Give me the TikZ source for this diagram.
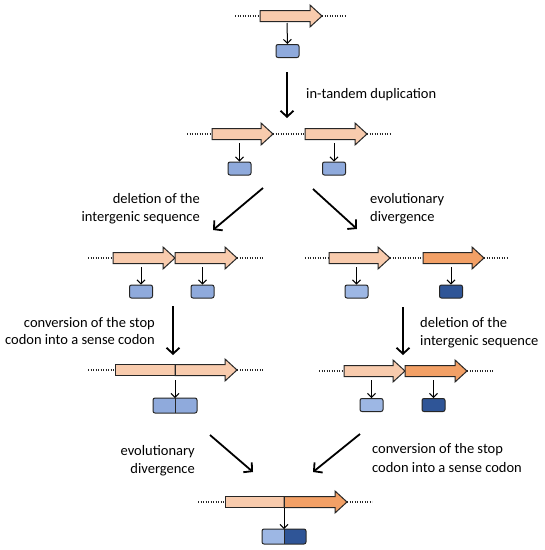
\documentclass[tikz,border=0pt]{standalone}
\usepackage{fontspec}
\setmainfont{Carlito}
\usetikzlibrary{arrows.meta}
\definecolor{peach}{HTML}{F8CBAD}
\definecolor{dorange}{HTML}{F2A066}
\definecolor{blueA}{HTML}{8FAADC}
\definecolor{blueB}{HTML}{9DB7E4}
\definecolor{blueC}{HTML}{2F5597}
\definecolor{outl}{HTML}{262626}
\newcommand{\genearrow}[4]{%
  \draw[geneline,fill=#4] (#1,#3-5.5) -- (#2-12,#3-5.5) -- (#2-12,#3-11) -- (#2,#3) -- (#2-12,#3+11) -- (#2-12,#3+5.5) -- (#1,#3+5.5) -- cycle;}
\newcommand{\genebody}[4]{%
  \draw[geneline,fill=#4] (#1,#3-5.5) rectangle (#2,#3+5.5);}
\newcommand{\dna}[3]{\draw[dnaline] (#1,#3) -- (#2,#3);}
\tikzset{
  geneline/.style={draw=outl,line width=1pt,line join=miter},
  dnaline/.style={line width=1.3pt,dash pattern=on 1.2pt off 1.3pt,black!85},
  prot/.style={draw=outl,line width=1pt,rounded corners=2pt,minimum width=23pt,minimum height=13pt,inner sep=0pt},
  small/.style={line width=1pt,-{Straight Barb[length=4pt,width=8pt]}},
  big/.style={line width=1.8pt,-{Straight Barb[length=6pt,width=13pt]}},
  lab/.style={font=\fontsize{14.5}{18}\selectfont,inner sep=0pt},
}
\begin{document}
\begin{tikzpicture}[x=1pt,y=-1pt]
\useasboundingbox (0,0) rectangle (545,550);
% ---------- row 0
\dna{235}{260}{16}\dna{322}{345}{16}
\genearrow{260}{322}{16}{peach}
\coordinate (g0) at (287,23);
\node[prot,fill=blueA] (p0) at (287.5,51) {};
\draw[small] (g0) -- (p0.north);
% big arrow 1
\coordinate (a1s) at (287,72);
\coordinate (a1e) at (287,118);
\draw[big] (a1s) -- (a1e);
\node[lab,anchor=base west] (l1) at (306,98) {in-tandem duplication};
% ---------- row 1
\dna{187}{212}{134}\dna{273}{305}{134}\dna{367}{390}{134}
\genearrow{212}{273}{134}{peach}
\genearrow{305}{367}{134}{peach}
\coordinate (g1a) at (239.5,143);
\coordinate (g1b) at (334,143);
\node[prot,fill=blueA] (p1a) at (239.5,168.5) {};
\node[prot,fill=blueA] (p1b) at (334,168.5) {};
\draw[small] (g1a) -- (p1a.north);
\draw[small] (g1b) -- (p1b.north);
% diagonals
\coordinate (d1s) at (263,188);
\coordinate (d1e) at (213,230);
\coordinate (d2s) at (313,189);
\coordinate (d2e) at (357,229);
\draw[big] (d1s) -- (d1e);
\draw[big] (d2s) -- (d2e);
\node[lab,anchor=base east] (l2a) at (200,203) {deletion of the};
\node[lab,anchor=base east] (l2b) at (200,221) {intergenic sequence};
\node[lab,anchor=base west] (l3a) at (370,203) {evolutionary};
\node[lab,anchor=base west] (l3b) at (370,221) {divergence};
% ---------- row 2 left
\dna{88}{113}{258}\dna{237}{263}{258}
\genearrow{113}{175}{258}{peach}
\genearrow{175}{237}{258}{peach}
\coordinate (g2a) at (141,267);
\coordinate (g2b) at (202.5,267);
\node[prot,fill=blueA] (p2a) at (141,291.5) {};
\node[prot,fill=blueA] (p2b) at (202.5,291.5) {};
\draw[small] (g2a) -- (p2a.north);
\draw[small] (g2b) -- (p2b.north);
% ---------- row 2 right
\dna{305}{329}{258}\dna{390}{423}{258}\dna{484}{507}{258}
\genearrow{329}{390}{258}{peach}
\genearrow{423}{484}{258}{dorange}
\coordinate (g2c) at (356.5,267);
\coordinate (g2d) at (451,267);
\node[prot,fill=blueB] (p2c) at (356.5,291.5) {};
\node[prot,fill=blueC] (p2d) at (451,291.5) {};
\draw[small] (g2c) -- (p2c.north);
\draw[small] (g2d) -- (p2d.north);
% vertical big arrows
\coordinate (v1s) at (173,306);
\coordinate (v1e) at (173,355);
\coordinate (v2s) at (403,307);
\coordinate (v2e) at (403,355);
\draw[big] (v1s) -- (v1e);
\draw[big] (v2s) -- (v2e);
\node[lab,anchor=base east] (l4a) at (155,327) {conversion of the stop};
\node[lab,anchor=base east] (l4b) at (155,344) {codon into a sense codon};
\node[lab,anchor=base west] (l5a) at (420,327) {deletion of the};
\node[lab,anchor=base west] (l5b) at (420,345) {intergenic sequence};
% ---------- row 3 left
\dna{88}{115}{370}\dna{237}{263}{370}
\genebody{115}{175}{370}{peach}
\genearrow{175}{237}{370}{peach}
\draw[geneline] (175,364.5) -- (175,375.5);
\coordinate (g3a) at (175,380);
\begin{scope}
\clip[rounded corners=2pt] (153,398) rectangle (197,413);
\fill[blueA] (153,398) rectangle (197,413);
\end{scope}
\draw[outl,line width=1pt,rounded corners=2pt] (153,398) rectangle (197,413);
\draw[outl,line width=1pt] (175,398) -- (175,413);
\coordinate (p3a) at (175,398);
\draw[small] (g3a) -- (p3a);
% ---------- row 3 right
\dna{319}{344}{371}\dna{467}{493}{371}
\genearrow{344}{405}{371}{peach}
\genearrow{405}{467}{371}{dorange}
\coordinate (g3b) at (371.5,380);
\coordinate (g3c) at (433.5,380);
\node[prot,fill=blueB] (p3b) at (371.5,405) {};
\node[prot,fill=blueC] (p3c) at (433.5,405) {};
\draw[small] (g3b) -- (p3b.north);
\draw[small] (g3c) -- (p3c.north);
% bottom diagonals
\coordinate (d3s) at (210,435);
\coordinate (d3e) at (253,472);
\coordinate (d4s) at (360,434);
\coordinate (d4e) at (313,472);
\draw[big] (d3s) -- (d3e);
\draw[big] (d4s) -- (d4e);
\node[lab,anchor=base east] (l6a) at (195,455) {evolutionary};
\node[lab,anchor=base east] (l6b) at (195,473) {divergence};
\node[lab,anchor=base west] (l7a) at (372,453) {conversion of the stop};
\node[lab,anchor=base west] (l7b) at (372,472) {codon into a sense codon};
% ---------- row 4
\dna{198}{225}{502}\dna{347}{372}{502}
\genebody{225}{284}{502}{peach}
\genearrow{284}{347}{502}{dorange}
\draw[geneline] (284,496.5) -- (284,507.5);
\coordinate (g4) at (284,508);
\begin{scope}
\clip[rounded corners=2pt] (262,529) rectangle (306,544);
\fill[blueB] (262,529) rectangle (284,544);
\fill[blueC] (284,529) rectangle (306,544);
\end{scope}
\draw[outl,line width=1pt,rounded corners=2pt] (262,529) rectangle (306,544);
\draw[outl,line width=1pt] (284,529) -- (284,544);
\coordinate (p4) at (284,529);
\draw[small] (g4) -- (p4);
\end{tikzpicture}
\end{document}
